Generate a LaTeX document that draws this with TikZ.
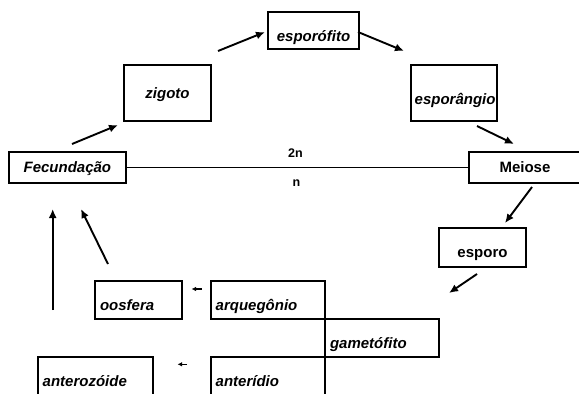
\documentclass[tikz,border=0pt]{standalone}
\usepackage{fontspec}
\setmainfont{Liberation Sans}
\usetikzlibrary{arrows.meta}

\begin{document}
\begin{tikzpicture}[x=1pt,y=-1pt,
  box/.style={draw,line width=1.6pt,inner sep=0pt,font=\fontsize{15}{18}\selectfont\bfseries\itshape},
  lbox/.style={box,inner xsep=5pt,align=left},
  arr/.style={-{Latex[length=9pt,width=8pt]},line width=1.9pt},
  sarr/.style={-{Latex[length=4.5pt,width=4.5pt]},line width=1.2pt},
  ploidy/.style={font=\fontsize{12.5}{15}\selectfont\bfseries}]
\useasboundingbox (0,0) rectangle (579,394);

% fase diploide
\node[box,minimum width=91pt,text height=29pt,text depth=8pt] (esporofito) at (313.5,30.5) {esporófito};
\node[box,minimum width=87pt,text height=33pt,text depth=23pt] (zigoto) at (167.5,93) {zigoto};
\node[lbox,inner xsep=4pt,text width=78.3pt,text height=39pt,text depth=17pt] (esporangio) at (453.85,93) {esporângio};
\node[box,minimum width=116.7pt,text height=20pt,text depth=11pt] (fecundacao) at (67.35,167.5) {Fecundação};
\node[box,minimum width=112pt,text height=20pt,text depth=11pt,font=\fontsize{15}{18}\selectfont\bfseries] (meiose) at (525,167.5) {Meiose};

% fase haploide
\node[box,minimum width=87pt,text height=29.6pt,text depth=9.4pt,font=\fontsize{15}{18}\selectfont\bfseries] (esporo) at (482.5,247.2) {esporo};
\node[lbox,text width=77pt,text height=29.7pt,text depth=8.3pt] (oosfera) at (138.5,300) {oosfera};
\node[lbox,text width=104.3pt,text height=29.7pt,text depth=8.3pt] (arquegonio) at (267.85,300) {arquegônio};
\node[lbox,text width=104pt,text height=29.3pt,text depth=8.7pt] (gametofito) at (382,338) {gametófito};
\node[lbox,text width=105.3pt,text height=30pt,text depth=13.3pt] (anterozoide) at (95.35,378.35) {anterozóide};
\node[lbox,text width=104.3pt,text height=30pt,text depth=13.3pt] (anteridio) at (267.85,378.35) {anterídio};

% linha 2n / n
\draw[line width=1.4pt] (fecundacao.east) -- (meiose.west);
\node[ploidy] (diploide) at (295.5,153.3) {2n};
\node[ploidy] (haploide) at (296.5,183.3) {n};

% pontas das setas
\coordinate (f1) at (72,144);    \coordinate (z1) at (118,125);
\coordinate (z2) at (218,51);    \coordinate (e1) at (265,32);
\coordinate (e2) at (358,32);    \coordinate (g1) at (404,51);
\coordinate (g2) at (477,126);   \coordinate (m1) at (514,144);
\coordinate (m2) at (532,187);   \coordinate (s1) at (505,223);
\coordinate (s2) at (477,274);   \coordinate (s3) at (449,293);
\coordinate (q1) at (201.5,289); \coordinate (o1) at (191.5,289);
\coordinate (d1) at (187,364.3); \coordinate (t1) at (177.5,364.3);
\coordinate (t2) at (52.7,310);  \coordinate (c1) at (52.7,209);
\coordinate (o2) at (108,264);   \coordinate (c2) at (81,209);

\draw[arr] (f1) -- (z1);
\draw[arr] (z2) -- (e1);
\draw[arr] (e2) -- (g1);
\draw[arr] (g2) -- (m1);
\draw[arr] (m2) -- (s1);
\draw[arr] (s2) -- (s3);
\draw[sarr] (q1) -- (o1);
\draw[sarr] (d1) -- (t1);
\draw[arr] (t2) -- (c1);
\draw[arr] (o2) -- (c2);
\end{tikzpicture}
\end{document}
